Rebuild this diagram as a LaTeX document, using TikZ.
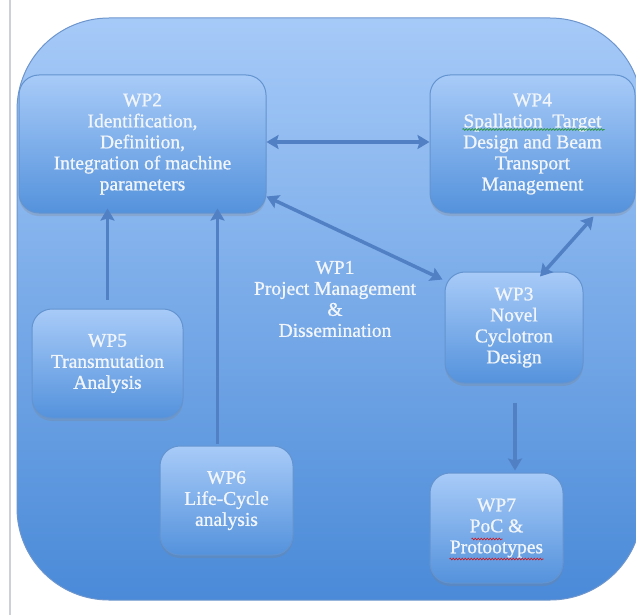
\documentclass[tikz,border=0pt]{standalone}
\usepackage{fontspec}
\setmainfont{Liberation Serif}
\newfontfamily\wpfont{Liberation Serif}[FakeBold=0.9]
\usetikzlibrary{arrows.meta,shadows,calc,decorations.pathmorphing}

\definecolor{outertop}{RGB}{166,202,248}
\definecolor{outerbot}{RGB}{74,138,216}
\definecolor{outeredge}{RGB}{110,150,205}
\definecolor{boxtop}{RGB}{168,203,248}
\definecolor{boxbot}{RGB}{84,146,220}
\definecolor{boxedge}{RGB}{100,148,208}
\definecolor{arrowc}{RGB}{82,128,196}
\definecolor{txt}{RGB}{242,246,250}
\definecolor{wavered}{RGB}{200,30,40}
\definecolor{wavegreen}{RGB}{40,150,60}
\definecolor{sideline}{RGB}{205,208,214}

\begin{document}
\begin{tikzpicture}[x=1pt,y=-1pt,
  wpbox/.style={draw=boxedge, line width=1pt, rounded corners=20pt,
    top color=boxtop, bottom color=boxbot, text=txt, align=center,
    font=\wpfont\fontsize{19.5}{21}\selectfont, inner sep=0pt,
    drop shadow={opacity=0.25, shadow xshift=0pt, shadow yshift=-3pt}},
  wplabel/.style={text=txt, align=center, font=\wpfont\fontsize{19.5}{21}\selectfont},
  twoway/.style={draw=arrowc, line width=3.5pt, {Stealth[length=12pt,width=14pt,inset=2pt]}-{Stealth[length=12pt,width=14pt,inset=2pt]}},
  oneway/.style={draw=arrowc, line width=3.5pt, -{Stealth[length=12pt,width=14pt,inset=2pt]}},
  wavy/.style={draw=#1, line width=0.7pt, decorate,
    decoration={zigzag, segment length=3pt, amplitude=0.8pt}}
]
\useasboundingbox (0,0) rectangle (636,615);
\clip (0,0) rectangle (636,615);
\fill[white] (0,0) rectangle (636,615);

% page margin rule
\draw[sideline, line width=1.5pt] (10,0) -- (10,615);

% outer WP1 container
\path[draw=outeredge, line width=1pt, top color=outertop, bottom color=outerbot,
  rounded corners=92pt] (17,18) rectangle (642,600);

% work packages
\node[wpbox, minimum width=247pt, minimum height=138pt] (wp2) at (142.5,144)
  {WP2\\Identification,\\Definition,\\Integration of machine\\parameters};
\node[wpbox, minimum width=205pt, minimum height=138pt] (wp4) at (532.5,144)
  {WP4\\Spallation\ \ Target\\Design and Beam\\Transport\\Management};
\node[wpbox, minimum width=151pt, minimum height=109pt] (wp5) at (107.5,363.5)
  {WP5\\Transmutation\\Analysis};
\node[wpbox, minimum width=138pt, minimum height=111pt] (wp3) at (514,327.5)
  {WP3\\Novel\\Cyclotron\\Design};
\node[wpbox, minimum width=133pt, minimum height=109pt] (wp6) at (226.5,500.5)
  {WP6\\Life-Cycle\\analysis};
\node[wpbox, minimum width=133pt, minimum height=110pt] (wp7) at (496.5,528)
  {WP7\\PoC \&\\Protootypes};
\node[wplabel] (wp1) at (335,299)
  {WP1\\Project Management\\\&\\Dissemination};

% spell-check underlines
\draw[wavy=wavegreen] ($(wp4.center)+(-70,-14.5)$) -- ($(wp4.center)+(72,-14.5)$);
\draw[wavy=wavered] ($(wp7.center)+(-25,11)$) -- ($(wp7.center)+(6,11)$);
\draw[wavy=wavered] ($(wp7.center)+(-47,31)$) -- ($(wp7.center)+(47,31)$);

% links between work packages
\draw[twoway] ([yshift=2pt]wp2.east) -- ([yshift=2pt]wp4.west);
\draw[twoway] ([yshift=17pt]wp2.south east) -- ([xshift=-2pt,yshift=-8pt]wp3.north west);
\draw[twoway] ([xshift=-42pt,yshift=-3pt]wp4.south east) -- ([xshift=26pt,yshift=-5pt]wp3.north);
\draw[oneway, shorten <=9pt, shorten >=-5pt] (wp5.north) -- (wp5.north |- wp2.south);
\draw[oneway, shorten <=2pt, shorten >=-5pt] ([xshift=-9pt]wp6.north) -- ([xshift=-9pt]wp6.north |- wp2.south);
\draw[oneway, shorten <=19pt, shorten >=2pt] ([xshift=18.5pt]wp7.north |- wp3.south) -- ([xshift=18.5pt]wp7.north);
\end{tikzpicture}
\end{document}
